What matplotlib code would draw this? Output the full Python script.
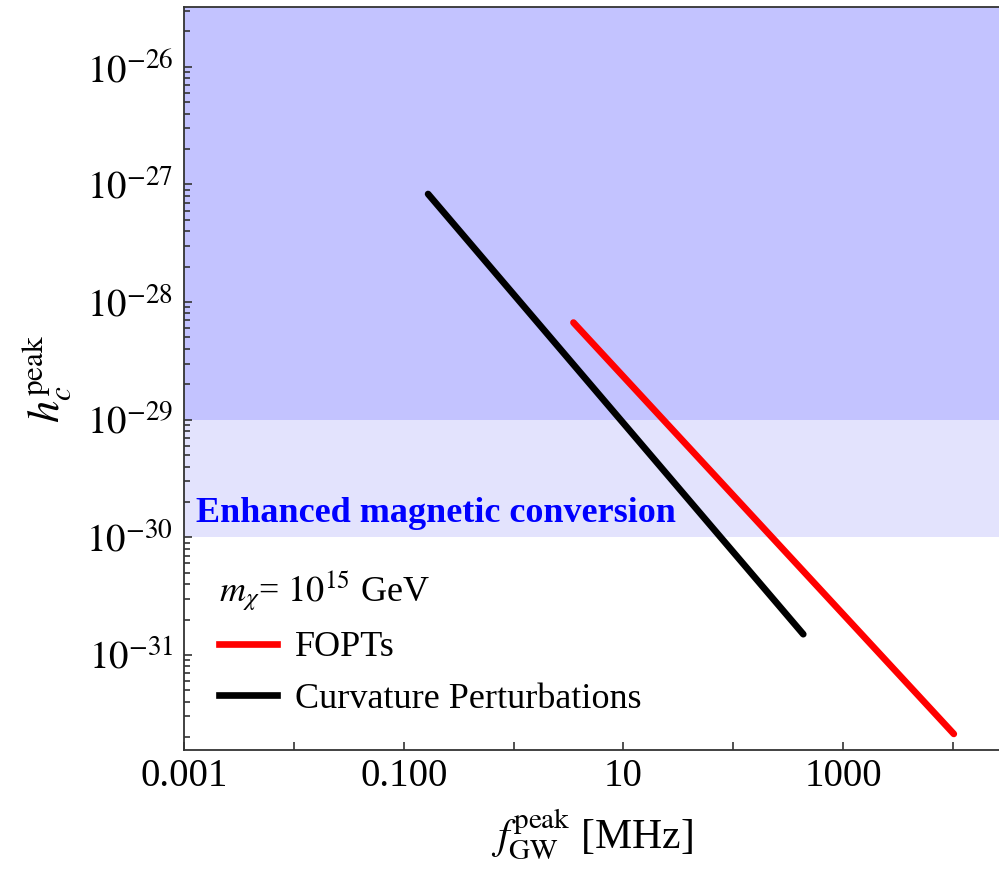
import numpy as np
import matplotlib
matplotlib.use("Agg")
import matplotlib.pyplot as plt
from matplotlib.lines import Line2D
from matplotlib.transforms import IdentityTransform

plt.rcParams['font.family'] = 'serif'
plt.rcParams['font.serif'] = ['Liberation Serif', 'DejaVu Serif']
plt.rcParams['mathtext.fontset'] = 'stix'

# data (f in MHz, h_c dimensionless)
fopt_f = [3.5, 1.02e4]
fopt_h = [6.7e-29, 2.13e-32]
curv_f = [0.166, 434.0]
curv_h = [8.3e-28, 1.5e-31]

band_dark = [1e-29, 1e-24]
band_light = [1e-30, 1e-29]

x_ticks = [1e-3, 1e-2, 1e-1, 1, 10, 100, 1000, 1e4]
x_labels = ['0.001', '', '0.100', '', '10', '', '1000', '']
y_ticks = [1e-26, 1e-27, 1e-28, 1e-29, 1e-30, 1e-31]
y_labels = [r'$10^{-26}$', r'$10^{-27}$', r'$10^{-28}$', r'$10^{-29}$',
            r'$10^{-30}$', r'$10^{-31}$']

fig = plt.figure(figsize=(9.99, 8.74), dpi=100)
ax = fig.add_axes([0.1845, 0.1419, 1.0 - 0.1845, 0.8497])
ax.set_xscale('log')
ax.set_yscale('log')
ax.set_xlim(1e-3, 10**4.42)
ax.set_ylim(10**-31.808, 10**-25.494)

# shaded regions
ax.axhspan(band_dark[0], band_dark[1], color='#c3c3ff', lw=0, zorder=0)
ax.axhspan(band_light[0], band_light[1], color='#e3e3fd', lw=0, zorder=0)

ax.plot(fopt_f, fopt_h, color='#ff0000', lw=4.8, solid_capstyle='round')
ax.plot(curv_f, curv_h, color='black', lw=4.8, solid_capstyle='round')

# band label, placed in pixels
ax.text(196, 874 - 513, 'Enhanced magnetic conversion', transform=IdentityTransform(),
        fontsize=26, fontweight='bold', color='#0000ff', va='center')

# ticks
ax.set_xticks(x_ticks)
ax.set_xticklabels(x_labels)
ax.xaxis.set_minor_locator(matplotlib.ticker.NullLocator())
ax.set_yticks(y_ticks)
ax.set_yticklabels(y_labels)
ax.yaxis.set_minor_locator(matplotlib.ticker.LogLocator(base=10, subs=np.arange(2, 10)))
ax.yaxis.set_minor_formatter(matplotlib.ticker.NullFormatter())
ax.tick_params(which='both', direction='in', top=False, right=False,
               width=1.2, color='#333333')
ax.tick_params(axis='x', labelsize=28, pad=6)
ax.tick_params(axis='y', labelsize=28, pad=8)
ax.tick_params(which='major', length=6)
ax.tick_params(which='minor', length=4)
for s in ['left', 'bottom', 'top']:
    ax.spines[s].set_linewidth(1.3)
    ax.spines[s].set_color('#333333')
ax.spines['right'].set_visible(False)

ax.set_xlabel(r'$f_{\rm GW}^{\rm peak}$ [MHz]', fontsize=30, labelpad=8)
ax.set_ylabel(r'$h_c^{\rm peak}$', fontsize=32, labelpad=10)

handles = [Line2D([], [], color='#ff0000', lw=4.8),
           Line2D([], [], color='black', lw=4.8)]
leg = ax.legend(handles, ['FOPTs', 'Curvature Perturbations'],
                title=r'$m_\chi$= $10^{15}$ GeV', title_fontsize=26,
                fontsize=26, frameon=False, loc='upper left',
                bbox_to_anchor=(0.043, 0.245), borderpad=0, borderaxespad=0,
                handlelength=1.6, handletextpad=0.5, labelspacing=0.5)
leg._legend_box.align = 'left'

fig.savefig('out.png', dpi=100)
